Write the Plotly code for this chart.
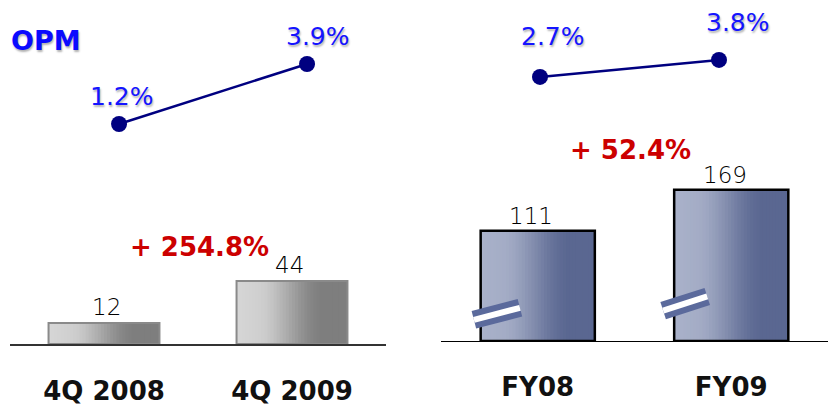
import plotly.graph_objects as go

# Operating profit, quarterly comparison
quarter_labels = ["4Q 2008", "4Q 2009"]
quarter_profit = [12, 44]
quarter_opm = [1.2, 3.9]
quarter_growth = "+ 254.8%"

# Operating profit, full-year comparison
year_labels = ["FY08", "FY09"]
year_profit = [111, 169]
year_opm = [2.7, 3.8]
year_growth = "+ 52.4%"

opm_title = "OPM"

# ---- styling -------------------------------------------------------------
W, H = 828, 405
SLICES = 36
BAR_W = 0.59
LABEL_FONT = "DejaVu Sans"
BLUE_TXT = "#1414ff"
LINE_CLR = "#000080"
RED_TXT = "#cc0000"
SHADOW = "1px 2px 2px rgba(0,0,0,0.30)"

panels = [
    dict(labels=quarter_labels, values=quarter_profit, opm=quarter_opm,
         growth=quarter_growth,
         xb="x", yb="y", xl="x3", yl="y3",
         light=(214, 214, 214), dark=(126, 126, 126),
         edge="#8a8a8a", edge_w=2, floor=-4),
    dict(labels=year_labels, values=year_profit, opm=year_opm,
         growth=year_growth,
         xb="x2", yb="y2", xl="x4", yl="y4",
         light=(170, 178, 202), dark=(90, 103, 145),
         edge="#000000", edge_w=2.5, floor=-45),
]


def shade(light, dark, t):
    # flat on the left, steep ramp in the middle, flat on the right
    if t <= 0.15:
        m = 0.06 * t / 0.15
    elif t >= 0.8:
        m = 1.0
    else:
        u = (t - 0.15) / 0.65
        m = 0.06 + 0.94 * (u * u * (3 - 2 * u))
    c = [round(a + (b - a) * m) for a, b in zip(light, dark)]
    return "rgb({},{},{})".format(*c)


fig = go.Figure()

for p in panels:
    base = p["floor"]
    heights = [v - base for v in p["values"]]
    step = BAR_W / SLICES
    # gradient body, drawn as thin overlapping slices of each bar
    for i in range(SLICES):
        w = min(step * 2.0, BAR_W - i * step)
        fig.add_trace(go.Bar(
            x=p["labels"], y=heights, base=base,
            width=w, offset=-BAR_W / 2 + i * step,
            marker=dict(color=shade(p["light"], p["dark"], i / (SLICES - 1)),
                        line=dict(width=0)),
            xaxis=p["xb"], yaxis=p["yb"], hoverinfo="skip", showlegend=False))
    # bar outline
    fig.add_trace(go.Bar(
        x=p["labels"], y=heights, base=base,
        width=BAR_W, offset=-BAR_W / 2,
        marker=dict(color="rgba(0,0,0,0)",
                    line=dict(color=p["edge"], width=p["edge_w"])),
        xaxis=p["xb"], yaxis=p["yb"], hoverinfo="skip", showlegend=False))
    # operating profit margin line
    fig.add_trace(go.Scatter(
        x=p["labels"], y=p["opm"], mode="lines+markers",
        line=dict(color=LINE_CLR, width=2.5),
        marker=dict(color=LINE_CLR, size=16),
        xaxis=p["xl"], yaxis=p["yl"], hoverinfo="skip", showlegend=False))

annotations = []

# profit values above bars
value_shift = [(2, 1), (-3, 1), (-7, 0), (-6, 0)]
k = 0
for p in panels:
    for lab, v in zip(p["labels"], p["values"]):
        dx, dy = value_shift[k]
        k += 1
        annotations.append(dict(
            x=lab, y=v, xref=p["xb"], yref=p["yb"], text=str(v),
            showarrow=False, yanchor="bottom", xshift=dx, yshift=dy,
            font=dict(family=LABEL_FONT, size=23, color="#000000", weight=300)))

# margin labels above the line markers
opm_shift = [(3, 27), (11, 27), (13, 40), (19, 37)]
k = 0
for p in panels:
    for lab, v in zip(p["labels"], p["opm"]):
        dx, dy = opm_shift[k]
        k += 1
        annotations.append(dict(
            x=lab, y=v, xref=p["xl"], yref=p["yl"], text=f"{v:.1f}%",
            showarrow=False, xanchor="center", yanchor="middle",
            xshift=dx, yshift=dy,
            font=dict(family=LABEL_FONT, size=25, color=BLUE_TXT,
                      shadow=SHADOW)))

# growth callouts
for p, (gx, gy) in zip(panels, [(199, 247), (630, 150)]):
    annotations.append(dict(
        x=gx / W, y=1 - gy / H, xref="paper", yref="paper",
        xanchor="center", yanchor="middle",
        text=p["growth"], showarrow=False,
        font=dict(family=LABEL_FONT, size=26, color=RED_TXT, weight="bold")))

annotations.append(dict(
    x=9 / W, y=1 - 41 / H, xref="paper", yref="paper", text=opm_title,
    showarrow=False, xanchor="left", yanchor="middle",
    font=dict(family=LABEL_FONT, size=27, color="#0a0aff", weight="bold",
              shadow=SHADOW)))

# axis-break marks on the full-year bars
shapes = []
break_marks = [((-0.33, -15), (-0.092, 2)), ((-0.352, -2), (-0.124, 18))]
for i, ((x0, y0), (x1, y1)) in enumerate(break_marks):
    for clr, wid in [("#5b6a9c", 18), ("white", 6)]:
        shapes.append(dict(type="line", xref="x2", yref="y2",
                           x0=i + x0, y0=y0, x1=i + x1, y1=y1,
                           line=dict(color=clr, width=wid)))

hidden = dict(visible=False, showgrid=False, zeroline=False, fixedrange=True)
cat_axis = dict(showgrid=False, zeroline=False, showline=True, ticks="",
                tickfont=dict(family=LABEL_FONT, size=26, color="#111111",
                              weight="bold"),
                ticklabelstandoff=23, fixedrange=True)

fig.update_layout(
    width=W, height=H, margin=dict(l=0, r=0, t=0, b=0),
    paper_bgcolor="white", plot_bgcolor="rgba(0,0,0,0)",
    barmode="overlay", showlegend=False,
    xaxis=dict(cat_axis, domain=[10 / W, 386 / W], range=[-0.5, 1.5],
               linecolor="#333333", linewidth=1.5),
    yaxis=dict(hidden, domain=[(H - 344) / H, 1], range=[-4, 258]),
    xaxis2=dict(cat_axis, domain=[441 / W, 1], range=[-0.5, 1.5],
                linecolor="#000000", linewidth=1.2, anchor="y2"),
    yaxis2=dict(hidden, domain=[(H - 341) / H, 1], range=[-45, 437.4],
                anchor="x2"),
    xaxis3=dict(hidden, domain=[10 / W, 386 / W], range=[-0.58, 1.42],
                anchor="y3"),
    yaxis3=dict(hidden, domain=[0, 1], range=[-11.45, 6.78], anchor="x3"),
    xaxis4=dict(hidden, domain=[441 / W, 1], range=[-0.553, 1.609],
                anchor="y4"),
    yaxis4=dict(hidden, domain=[0, 1], range=[-18.53, 7.68], anchor="x4"),
    annotations=annotations, shapes=shapes,
)

fig.write_html("out.html")
